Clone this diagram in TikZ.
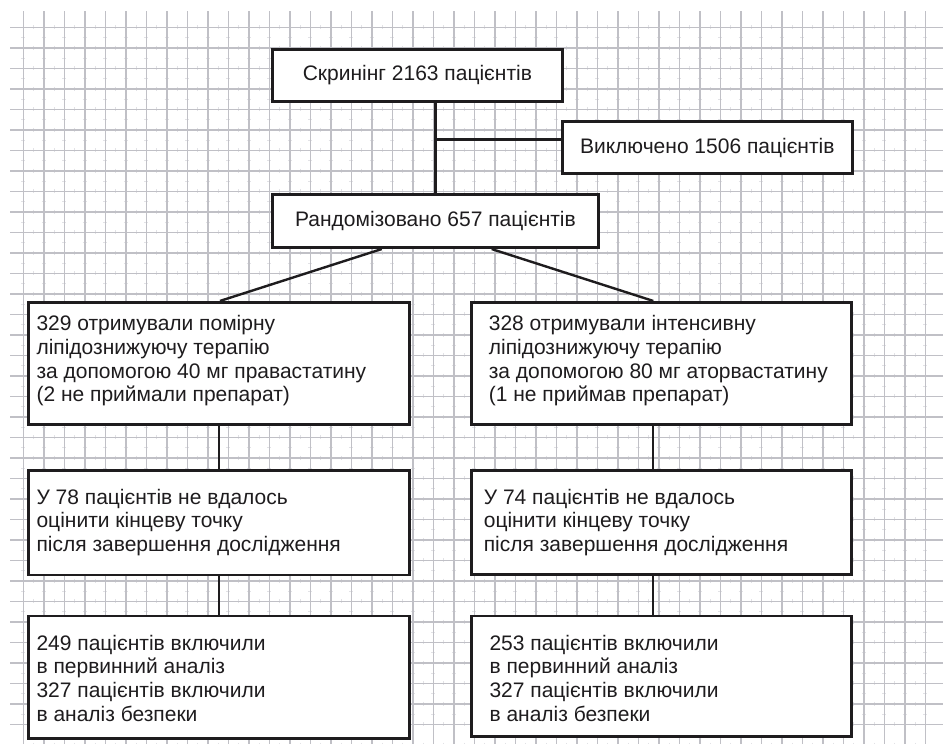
\documentclass[tikz,border=0pt]{standalone}
\usepackage{fontspec}
\setmainfont{Liberation Sans}
\definecolor{ink}{RGB}{30,28,30}
\definecolor{gridc}{RGB}{192,192,198}
\definecolor{tickc}{RGB}{226,226,230}
\begin{document}
\begin{tikzpicture}[x=1pt,y=-1pt,
  box/.style={draw=ink, line width=2.7pt, fill=white, inner sep=0pt, text=ink,
    font=\fontsize{21}{23.7}\selectfont},
  conn/.style={draw=ink, line width=2.4pt},
  txt/.style={text=ink, font=\fontsize{21}{23.7}\selectfont, inner sep=0pt,
    align=left, anchor=north west},
  gridline/.style={draw=gridc, line width=1.6pt},
  gridtick/.style={draw=tickc, line width=0.8pt}]
\useasboundingbox (0,0) rectangle (943,744);
\fill[white] (0,0) rectangle (943,744);
% grid ticks
\foreach \k in {0,...,43}
  \draw[gridtick, dash pattern=on 4pt off 16.5pt, dash phase=6.2pt]
    ({33.55+20.5*\k},11) -- ({33.55+20.5*\k},744);
\foreach \j in {0,...,33}
  \draw[gridtick, dash pattern=on 4pt off 16.5pt, dash phase=9.2pt]
    (10,{37.55+20.5*\j}) -- (943,{37.55+20.5*\j});
% grid lines
\foreach \k in {0,...,44}
  \draw[gridline] ({23.3+20.5*\k},11) -- ({23.3+20.5*\k},744);
\foreach \j in {0,...,34}
  \draw[gridline] (10,{27.3+20.5*\j}) -- (943,{27.3+20.5*\j});

% boxes
\node[box, minimum width=290pt, minimum height=52.5pt] (scr) at (417.4,75.4)
  {Скринінг 2163 пацієнтів};
\node[box, minimum width=290pt, minimum height=52pt] (excl) at (707.3,147.7)
  {Виключено 1506 пацієнтів};
\node[box, minimum width=326.4pt, minimum height=53pt] (rand) at (435.5,221.2)
  {Рандомізовано 657 пацієнтів};

\node[box, minimum width=380.6pt, minimum height=122.4pt] (L1) at (219,363.5) {};
\node[box, minimum width=380pt, minimum height=122pt] (R1) at (661.7,363.3) {};
\node[box, minimum width=380.6pt, minimum height=104.3pt] (L2) at (219,522.8) {};
\node[box, minimum width=380pt, minimum height=103.6pt] (R2) at (661.7,522.5) {};
\node[box, minimum width=380.6pt, minimum height=122.3pt] (L3) at (219,677.2) {};
\node[box, minimum width=380pt, minimum height=120.7pt] (R3) at (661.7,676.3) {};

\node[txt] (L1t) at ([shift={(9,14.5)}]L1.north west)
  {329 отримували помірну\\ліпідознижуючу терапію\\за допомогою 40 мг правастатину\\(2 не приймали препарат)};
\node[txt] (R1t) at ([shift={(18.3,14.5)}]R1.north west)
  {328 отримували інтенсивну\\ліпідознижуючу терапію\\за допомогою 80 мг аторвастатину\\(1 не приймав препарат)};
\node[txt] (L2t) at ([shift={(9,19.5)}]L2.north west)
  {У 78 пацієнтів не вдалось\\оцінити кінцеву точку\\після завершення дослідження};
\node[txt] (R2t) at ([shift={(13.3,19.5)}]R2.north west)
  {У 74 пацієнтів не вдалось\\оцінити кінцеву точку\\після завершення дослідження};
\node[txt] (L3t) at ([shift={(9,20)}]L3.north west)
  {249 пацієнтів включили\\в первинний аналіз\\327 пацієнтів включили\\в аналіз безпеки};
\node[txt] (R3t) at ([shift={(19,20)}]R3.north west)
  {253 пацієнтів включили\\в первинний аналіз\\327 пацієнтів включили\\в аналіз безпеки};

% connectors
\draw[conn] (rand.north) -- (rand.north |- scr.south);
\coordinate (br) at (rand.north |- 0,139.3);
\draw[conn] (br) -- (br -| excl.west);
\draw[conn] ([xshift=-53.8pt]rand.south) -- ([xshift=1pt]L1.north);
\draw[conn] ([xshift=56.2pt]rand.south) -- ([xshift=-8.4pt]R1.north);
\draw[conn] (L1.south) -- (L2.north);
\draw[conn] (L2.south) -- (L3.north);
\draw[conn] ([xshift=-9pt]R1.south) -- ([xshift=-9pt]R2.north);
\draw[conn] ([xshift=-9pt]R2.south) -- ([xshift=-9pt]R3.north);
\end{tikzpicture}
\end{document}
